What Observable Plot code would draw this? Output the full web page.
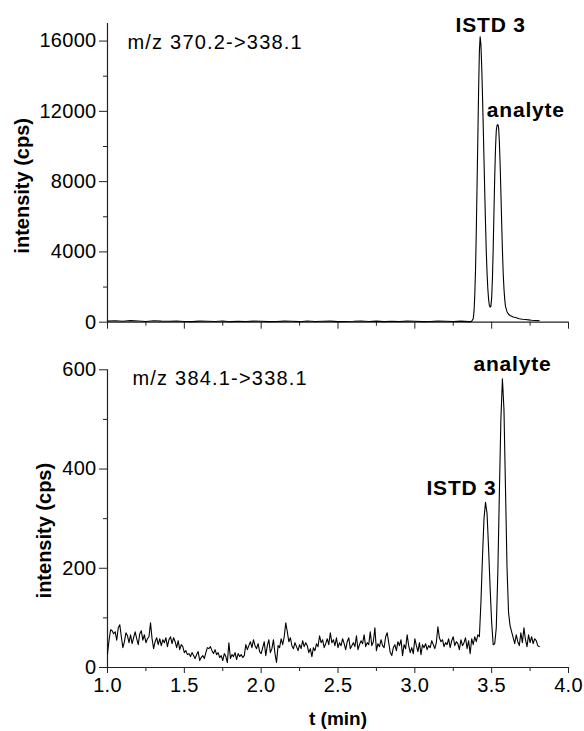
<!DOCTYPE html>
<html>
<head>
<meta charset="utf-8">
<script src="https://cdn.jsdelivr.net/npm/d3@7"></script>
<script src="https://cdn.jsdelivr.net/npm/@observablehq/plot@0.6"></script>
<style>
  html, body { margin: 0; padding: 0; background: #fff; }
  #wrap { position: relative; width: 584px; height: 731px; }
  #top, #bottom { position: absolute; left: 0; }
  #top { top: 0; }
  #bottom { top: 340px; }
</style>
</head>
<body>
<div id="wrap"><div id="top"></div><div id="bottom"></div></div>
<script>
// ---------- data ----------
const xTicks = [1.0, 1.5, 2.0, 2.5, 3.0, 3.5, 4.0];
const xMinorTicks = [1.25, 1.75, 2.25, 2.75, 3.25, 3.75];
const topYTicks = [0, 4000, 8000, 12000, 16000];
const topYMinorTicks = [2000, 6000, 10000, 14000];
const bottomYTicks = [0, 200, 400, 600];
const bottomYMinorTicks = [100, 300, 500];

const topTitle = "m/z 370.2->338.1";
const bottomTitle = "m/z 384.1->338.1";
const yLabel = "intensity (cps)";
const xLabel = "t (min)";

// top trace (m/z 370.2->338.1): time (min) and intensity (cps)
const topTimes = [
  1.00,1.05,1.10,1.15,1.20,1.25,1.30,1.35,1.40,1.45,
  1.50,1.55,1.60,1.65,1.70,1.75,1.80,1.85,1.90,1.95,
  2.00,2.05,2.10,2.15,2.20,2.25,2.30,2.35,2.40,2.45,
  2.50,2.55,2.60,2.65,2.70,2.75,2.80,2.85,2.90,2.95,
  3.00,3.05,3.10,3.15,3.20,3.25,3.30,3.35,
  3.36,3.37,3.38,3.385,3.39,3.395,3.40,3.405,3.41,3.415,
  3.42,3.425,3.43,3.435,3.44,3.445,3.45,3.455,3.46,3.465,
  3.47,3.475,3.48,3.485,3.49,3.495,3.50,3.505,3.51,3.515,
  3.52,3.525,3.53,3.535,3.54,3.545,3.55,3.555,3.56,3.565,
  3.57,3.575,3.58,3.585,3.59,3.60,3.61,3.62,3.64,3.66,
  3.68,3.70,3.72,3.74,3.76,3.78,3.80,3.81
];
const topValues = [
  60,80,50,90,70,40,85,60,50,70,
  40,30,60,50,40,70,30,50,40,60,
  50,30,40,60,50,30,70,40,50,60,
  30,40,50,70,40,60,30,50,40,60,
  50,30,40,60,50,40,60,30,
  30,60,200,600,1500,3000,5200,7800,10500,13200,
  15400,16250,15800,14600,13000,11200,9300,7400,5600,4000,
  2800,1900,1300,950,860,900,1400,2500,4200,6300,
  8300,9900,10900,11200,11250,11100,10300,9000,7400,5700,
  4100,2800,1900,1300,900,600,450,380,300,250,
  200,170,150,130,110,100,90,80
];

// bottom trace (m/z 384.1->338.1): sampled every 0.01 min from 1.00 min
const bottomStart = 1.00;
const bottomStep = 0.01;
const bottomValues = [
  28,55,76,74,68,72,55,80,86,62,
  40,52,70,64,50,66,48,60,72,58,
  46,68,74,55,66,50,58,62,90,58,
  38,52,60,46,58,44,56,50,60,42,
  56,62,48,60,52,40,54,36,46,42,
  30,34,26,28,22,30,24,18,26,32,
  14,20,24,18,30,40,38,42,34,28,
  36,26,30,20,24,14,28,22,10,50,
  18,26,22,30,16,28,22,26,20,24,
  46,36,44,52,40,56,44,38,48,32,
  28,40,52,24,44,56,30,38,56,28,
  10,44,40,58,46,62,90,72,52,60,
  44,38,50,42,34,46,38,54,42,50,
  44,30,38,22,40,34,48,42,64,50,
  56,40,48,58,46,70,50,56,44,60,
  40,50,44,58,48,36,52,60,38,44,
  50,42,64,36,46,54,48,66,42,50,
  46,72,44,52,80,34,48,42,56,44,
  40,62,70,50,30,24,40,46,34,52,
  44,56,24,46,38,66,44,30,40,28,
  58,44,32,50,26,46,40,48,36,44,
  40,54,46,38,50,82,60,52,56,42,
  50,46,58,40,54,62,44,52,48,36,
  56,44,50,60,38,54,28,58,46,62,
  52,66,62,130,220,300,333,310,240,160,
  90,46,48,80,190,350,500,582,520,360,
  200,110,84,72,60,48,66,52,44,70,
  50,80,56,42,66,50,62,48,58,54,
  44,42
];

const topPeakLabels = ["ISTD 3", "analyte"];
const bottomPeakLabels = ["ISTD 3", "analyte"];

// ---------- build tables ----------
const topData = topTimes.map((t, i) => ({t, v: topValues[i]}));
const bottomData = bottomValues.map((v, i) => ({t: +(bottomStart + i * bottomStep).toFixed(2), v}));

const splitT = (data, lo, hi) => d3.greatest(data.filter(d => d.t >= lo && d.t < hi), d => d.v);
const topIstd = splitT(topData, 3.3, 3.49);
const topAnalyte = splitT(topData, 3.49, 3.7);
const botIstd = splitT(bottomData, 3.4, 3.51);
const botAnalyte = splitT(bottomData, 3.51, 3.7);

const FONT = "'Liberation Sans', Arial, Helvetica, sans-serif";
const AX = "#222";
const fmtX = d3.format(".1f");

const commonStyle = {fontFamily: FONT, fontSize: "20px", color: "#000", background: "#fff", overflow: "visible"};

const topPlot = Plot.plot({
  width: 584, height: 340,
  marginLeft: 107, marginRight: 16, marginTop: 23, marginBottom: 18.3,
  x: {domain: [1, 4]},
  y: {domain: [0, 17000]},
  style: commonStyle,
  marks: [
    Plot.axisY(topYTicks, {tickSize: 8, tickPadding: 3, tickFormat: d => String(d), label: null, stroke: AX}),
    Plot.axisY(topYMinorTicks, {tickSize: 4, tickFormat: () => "", label: null, stroke: AX}),
    Plot.axisX(xTicks, {tickSize: 7, tickFormat: () => "", label: null, stroke: AX}),
    Plot.axisX(xMinorTicks, {tickSize: 4, tickFormat: () => "", label: null, stroke: AX}),
    Plot.ruleX([1], {stroke: AX, strokeWidth: 1.2}),
    Plot.ruleY([0], {stroke: AX, strokeWidth: 1.2}),
    Plot.line(topData, {x: "t", y: "v", stroke: "#000", strokeWidth: 1.1}),
    Plot.text([topTitle], {frameAnchor: "top-left", dx: 20, dy: 19, textAnchor: "start", lineAnchor: "middle", fontSize: 20}),
    Plot.text([yLabel], {frameAnchor: "left", rotate: -90, dx: -85, dy: 13, textAnchor: "middle", lineAnchor: "middle", fontWeight: "bold", fontSize: 20}),
    Plot.text([topIstd], {x: "t", y: "v", text: () => topPeakLabels[0], dx: 10.5, dy: -11, fontWeight: "bold", fontSize: 21}),
    Plot.text([topAnalyte], {x: "t", y: "v", text: () => topPeakLabels[1], dx: 28, dy: -14, fontWeight: "bold", fontSize: 21})
  ]
});

const bottomPlot = Plot.plot({
  width: 584, height: 391,
  marginLeft: 107, marginRight: 16, marginTop: 29.3, marginBottom: 64,
  x: {domain: [1, 4]},
  y: {domain: [0, 600]},
  style: commonStyle,
  marks: [
    Plot.axisY(bottomYTicks, {tickSize: 8, tickPadding: 3, tickFormat: d => String(d), label: null, stroke: AX}),
    Plot.axisY(bottomYMinorTicks, {tickSize: 4, tickFormat: () => "", label: null, stroke: AX}),
    Plot.axisX(xTicks, {tickSize: 6, tickPadding: 4, tickFormat: fmtX, label: null, stroke: AX}),
    Plot.axisX(xMinorTicks, {tickSize: 4, tickFormat: () => "", label: null, stroke: AX}),
    Plot.ruleX([1], {stroke: AX, strokeWidth: 1.2}),
    Plot.ruleY([0], {stroke: AX, strokeWidth: 1.2}),
    Plot.line(bottomData, {x: "t", y: "v", stroke: "#000", strokeWidth: 1.1}),
    Plot.text([bottomTitle], {frameAnchor: "top-left", dx: 25, dy: 9, textAnchor: "start", lineAnchor: "middle", fontSize: 20}),
    Plot.text([yLabel], {frameAnchor: "left", rotate: -90, dx: -63, dy: 12, textAnchor: "middle", lineAnchor: "middle", fontWeight: "bold", fontSize: 20}),
    Plot.text([xLabel], {frameAnchor: "bottom", dy: 51, textAnchor: "middle", lineAnchor: "middle", fontWeight: "bold", fontSize: 19}),
    Plot.text([botIstd], {x: "t", y: "v", text: () => bottomPeakLabels[0], dx: -24, dy: -14, fontWeight: "bold", fontSize: 21}),
    Plot.text([botAnalyte], {x: "t", y: "v", text: () => bottomPeakLabels[1], dx: 10, dy: -14, fontWeight: "bold", fontSize: 21})
  ]
});

function tweak(svg) {
  d3.select(svg).selectAll("text").each(function() {
    const s = this.textContent;
    if (s.startsWith("m/z")) this.style.letterSpacing = "1.2px";
    else if (s === "ISTD 3" || s === "analyte") this.style.letterSpacing = "0.8px";
    else if (/^[0-9.]+$/.test(s)) this.style.letterSpacing = "0.3px";
  });
}
tweak(topPlot); tweak(bottomPlot);
document.getElementById("top").appendChild(topPlot);
document.getElementById("bottom").appendChild(bottomPlot);
</script>
</body>
</html>
